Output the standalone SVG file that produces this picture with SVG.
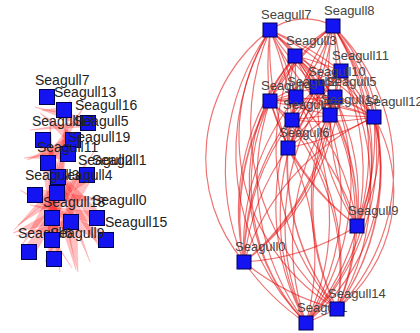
<svg xmlns="http://www.w3.org/2000/svg" width="420" height="333" viewBox="0 0 420 333">
<style>
.w polygon{fill:#ff1a1a;fill-opacity:.27;stroke:#ff3030;stroke-opacity:.3;stroke-width:.5}
.e path{fill:none;stroke:#e00000;stroke-opacity:.55;stroke-width:1.2}
.l rect{fill:#1414f2;stroke:#000050;stroke-width:1}
.l text{font-family:"Liberation Sans",Arial,sans-serif;font-size:14px;fill:#222}
.r rect{fill:#1414f2;stroke:#000050;stroke-width:1}
.r text{font-family:"Liberation Sans",Arial,sans-serif;font-size:13px;fill:#444}
</style>
<rect width="420" height="333" fill="#fff"/>
<g id="connectors-left" class="w">
<polygon points="13,233 54.2,223.6 49.8,212.4"/>
<polygon points="78,272 76.9,221.2 65.1,222.8"/>
<polygon points="27,160 75,144.6 71,135.4"/>
<polygon points="24,158 68.5,159 67.5,149"/>
<polygon points="35,107 86.6,127.8 89.4,118.2"/>
<polygon points="40,113 69.8,143.9 76.2,136.1"/>
<polygon points="30,205 95.9,223.9 98.1,212.1"/>
<polygon points="22,245 62,196.3 52,189.7"/>
<polygon points="60,272 54,162.3 42,163.7"/>
<polygon points="90,262 48.6,137.8 37.4,142.2"/>
<polygon points="100,248 63.2,173.9 52.8,180.1"/>
<polygon points="45,262 92.4,177.6 81.6,172.4"/>
<polygon points="112,200 35.4,189 34.6,201"/>
<polygon points="20,190 103,245.2 109,234.8"/>
<polygon points="50,118 48,260 60,260"/>
<polygon points="66,128 46,239.3 58,240.7"/>
<polygon points="95,150 24,248.7 34,255.3"/>
<polygon points="38,150 92.5,221.9 101.5,214.1"/>
<polygon points="85,105 43.8,160.3 52.2,165.7"/>
<polygon points="18,225 90.5,179.9 83.5,170.1"/>
<polygon points="70,100 52,192.3 62,193.7"/>
<polygon points="42,110 62,113 66,107"/>
<polygon points="30,130 84,121 86,127"/>
<polygon points="16,236 70,219 72,226"/>
<polygon points="72,268 50,236 56,242"/>
<polygon points="76,270 58,215 66,213"/>
<polygon points="14,230 58,180 62,186"/>
</g>
<g id="connectors-right" class="e">
<path d="M270 30A240 240 0 0 0 244 262M333 26A240 240 0 0 0 244 262M295 56A240 240 0 0 0 244 262M341 71A240 240 0 0 1 244 262M317 87A240 240 0 0 0 244 262M335 97A240 240 0 0 1 244 262M270 101A240 240 0 0 0 244 262M296 97A240 240 0 0 0 244 262M374 117A240 240 0 0 0 244 262M330 115A240 240 0 0 1 244 262M292 120A240 240 0 0 0 244 262M288 148A240 240 0 0 0 244 262"/>
<path d="M270 30A240 240 0 0 1 357 226M333 26A240 240 0 0 1 357 226M295 56A240 240 0 0 1 357 226M341 71A240 240 0 0 1 357 226M317 87A240 240 0 0 0 357 226M335 97A240 240 0 0 1 357 226M270 101A240 240 0 0 0 357 226M296 97A240 240 0 0 1 357 226M374 117A240 240 0 0 1 357 226M330 115A240 240 0 0 0 357 226M292 120A240 240 0 0 1 357 226M288 148A240 240 0 0 0 357 226"/>
<path d="M270 30A240 240 0 0 0 337 309M333 26A240 240 0 0 1 337 309M295 56A240 240 0 0 0 337 309M341 71A240 240 0 0 1 337 309M317 87A240 240 0 0 1 337 309M335 97A240 240 0 0 0 337 309M270 101A240 240 0 0 1 337 309M296 97A240 240 0 0 0 337 309M374 117A240 240 0 0 1 337 309M330 115A240 240 0 0 0 337 309M292 120A240 240 0 0 1 337 309M288 148A240 240 0 0 0 337 309"/>
<path d="M270 30A240 240 0 0 0 306 323M333 26A240 240 0 0 1 306 323M295 56A240 240 0 0 1 306 323M341 71A240 240 0 0 0 306 323M317 87A240 240 0 0 0 306 323M335 97A240 240 0 0 1 306 323M270 101A240 240 0 0 0 306 323M296 97A240 240 0 0 1 306 323M374 117A240 240 0 0 1 306 323M330 115A240 240 0 0 0 306 323M292 120A240 240 0 0 0 306 323M288 148A240 240 0 0 1 306 323"/>
<path d="M244 262A240 240 0 0 0 357 226M244 262A240 240 0 0 0 306 323M244 262A240 240 0 0 0 337 309M357 226A240 240 0 0 1 337 309M357 226A240 240 0 0 1 306 323M337 309L306 323"/>
<path d="M270 30A160 160 0 0 0 244 262M270 101A200 200 0 0 0 306 323M270 30A200 200 0 0 0 337 309M333 26A200 200 0 0 1 337 309M374 117A200 200 0 0 1 306 323M341 71A150 150 0 0 1 357 226M333 26A170 170 0 0 1 357 226M295 56A200 200 0 0 0 306 323M374 117A150 150 0 0 1 337 309"/>
<path d="M270 30A60 60 0 0 1 333 26M270 30A300 300 0 0 1 295 56M270 30A300 300 0 0 1 341 71M270 30A300 300 0 0 0 317 87M270 30A300 300 0 0 1 335 97M270 30A300 300 0 0 0 270 101M270 30A300 300 0 0 1 296 97M270 30A300 300 0 0 1 374 117M270 30A300 300 0 0 0 330 115M270 30A300 300 0 0 1 292 120M270 30A300 300 0 0 0 288 148"/>
<path d="M333 26A300 300 0 0 0 295 56M333 26A300 300 0 0 1 341 71M333 26A300 300 0 0 0 317 87M333 26A300 300 0 0 1 335 97M333 26A300 300 0 0 0 270 101M333 26A300 300 0 0 1 296 97M333 26A300 300 0 0 1 374 117M333 26A300 300 0 0 0 330 115M333 26A300 300 0 0 0 292 120M333 26A300 300 0 0 1 288 148"/>
<path d="M295 56A300 300 0 0 1 341 71M295 56A300 300 0 0 0 317 87M295 56A300 300 0 0 1 335 97M295 56A300 300 0 0 0 270 101M295 56L296 97M295 56A300 300 0 0 1 374 117M295 56A300 300 0 0 0 330 115M295 56A300 300 0 0 1 292 120M295 56A300 300 0 0 0 288 148"/>
<path d="M341 71L317 87M341 71L335 97M341 71A300 300 0 0 0 270 101M341 71A300 300 0 0 1 374 117M341 71L330 115M341 71A300 300 0 0 0 288 148M341 71A300 300 0 0 1 292 120"/>
<path d="M317 87L270 101M317 87A300 300 0 0 1 374 117M317 87A300 300 0 0 0 288 148M317 87L292 120M335 97L270 101M335 97A300 300 0 0 1 374 117M335 97A300 300 0 0 0 288 148"/>
<path d="M270 101L296 97M270 101A300 300 0 0 1 374 117M270 101L330 115M270 101L288 148M270 101L292 120M296 97A300 300 0 0 1 374 117M296 97L288 148M374 117L330 115M374 117A300 300 0 0 1 292 120M374 117A300 300 0 0 1 288 148M330 115L288 148M330 115L292 120M292 120L288 148"/>
</g>
<g id="n7l" class="l"><text x="35" y="85">Seagull7</text><rect x="39.5" y="89.5" width="15" height="15"/></g>
<g id="n13l" class="l"><text x="54" y="97">Seagull13</text><rect x="56.5" y="102.5" width="15" height="15"/></g>
<g id="n16l" class="l"><text x="75" y="110">Seagull16</text><rect x="80.5" y="115.5" width="15" height="15"/></g>
<g id="n17l" class="l"><text x="32" y="126">Seagull17</text><rect x="35.5" y="132.5" width="15" height="15"/></g>
<g id="n5l" class="l"><text x="74" y="126">Seagull5</text><rect x="65.5" y="132.5" width="15" height="15"/></g>
<g id="n19l" class="l"><text x="68" y="142">Seagull19</text><rect x="60.5" y="146.5" width="15" height="15"/></g>
<g id="n11l" class="l"><text x="37" y="152">Seagull11</text><rect x="40.5" y="155.5" width="15" height="15"/></g>
<g id="n2l" class="l"><text x="78" y="165">Seagull2</text><rect x="79.5" y="167.5" width="15" height="15"/></g>
<g id="n1l" class="l"><text x="92" y="165">Seagull1</text></g>
<g id="n4l" class="l"><text x="58" y="180">Seagull4</text><rect x="50.5" y="169.5" width="15" height="15"/></g>
<g id="n3l" class="l"><text x="25" y="180">Seagull3</text><rect x="27.5" y="187.5" width="15" height="15"/></g>
<g id="n18l" class="l"><text x="43" y="207">Seagull18</text><rect x="49.5" y="185.5" width="15" height="15"/></g>
<g id="n0l" class="l"><text x="92" y="205">Seagull0</text><rect x="89.5" y="210.5" width="15" height="15"/></g>
<g id="n8l" class="l"><rect x="44.5" y="210.5" width="15" height="15"/></g>
<g id="n12l" class="l"><rect x="63.5" y="214.5" width="15" height="15"/></g>
<g id="n15l" class="l"><text x="105" y="227">Seagull15</text><rect x="98.5" y="232.5" width="15" height="15"/></g>
<g id="n6l" class="l"><text x="18" y="238">Seagull6</text><rect x="21.5" y="244.5" width="15" height="15"/></g>
<g id="n9l" class="l"><text x="50" y="238">Seagull9</text><rect x="44.5" y="232.5" width="15" height="15"/></g>
<g id="n10l" class="l"><rect x="46.5" y="251.5" width="15" height="15"/></g>
<g id="n7r" class="r"><text x="261" y="19">Seagull7</text><rect x="263" y="23" width="14" height="14"/></g>
<g id="n8r" class="r"><text x="324" y="15">Seagull8</text><rect x="326" y="19" width="14" height="14"/></g>
<g id="n3r" class="r"><text x="286" y="45">Seagull3</text><rect x="288" y="49" width="14" height="14"/></g>
<g id="n11r" class="r"><text x="332" y="60">Seagull11</text><rect x="334" y="64" width="14" height="14"/></g>
<g id="n10r" class="r"><text x="308" y="76">Seagull10</text><rect x="310" y="80" width="14" height="14"/></g>
<g id="n4r" class="r"><text x="261" y="90">Seagull4</text><rect x="263" y="94" width="14" height="14"/></g>
<g id="n2r" class="r"><text x="287" y="86">Seagull2</text><rect x="289" y="90" width="14" height="14"/></g>
<g id="n5r" class="r"><text x="326" y="86">Seagull5</text><rect x="328" y="90" width="14" height="14"/></g>
<g id="n16r" class="r"><text x="283" y="109">Seagull16</text><rect x="285" y="113" width="14" height="14"/></g>
<g id="n13r" class="r"><text x="321" y="104">Seagull13</text><rect x="323" y="108" width="14" height="14"/></g>
<g id="n12r" class="r"><text x="365" y="106">Seagull12</text><rect x="367" y="110" width="14" height="14"/></g>
<g id="n6r" class="r"><text x="279" y="137">Seagull6</text><rect x="281" y="141" width="14" height="14"/></g>
<g id="n9r" class="r"><text x="348" y="215">Seagull9</text><rect x="350" y="219" width="14" height="14"/></g>
<g id="n0r" class="r"><text x="235" y="251">Seagull0</text><rect x="237" y="255" width="14" height="14"/></g>
<g id="n1r" class="r"><text x="297" y="312">Seagull1</text><rect x="299" y="316" width="14" height="14"/></g>
<g id="n14r" class="r"><text x="328" y="298">Seagull14</text><rect x="330" y="302" width="14" height="14"/></g>
</svg>
